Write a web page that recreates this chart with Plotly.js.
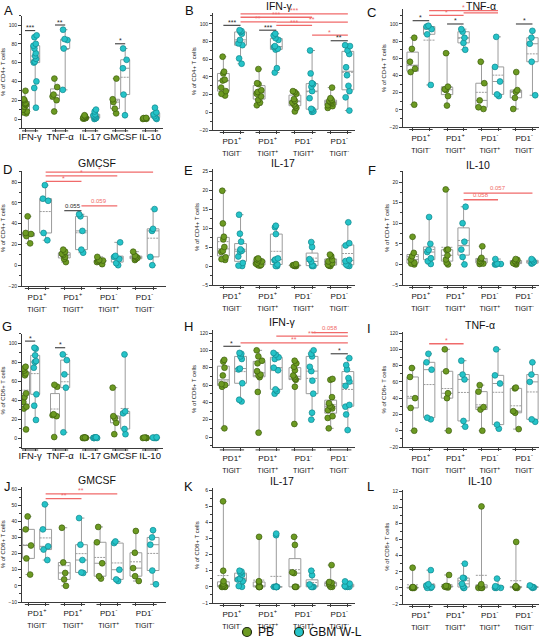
<!DOCTYPE html>
<html>
<head>
<meta charset="utf-8">
<script src="https://cdn.plot.ly/plotly-3.0.1.min.js"></script>
<style>
  html, body { margin: 0; padding: 0; background: #fff; }
  #chart { width: 546px; height: 639px; }
</style>
</head>
<body>
<div id="chart"></div>
<script>
// ---- categories -------------------------------------------------------
const cytokines = ['IFN-γ', 'TNF-α', 'IL-17', 'GMCSF', 'IL-10'];
const pd1Labels = ['PD1<sup>+</sup>', 'PD1<sup>+</sup>', 'PD1<sup>-</sup>', 'PD1<sup>-</sup>'];
const tigitLabels = ['TIGIT<sup>-</sup>', 'TIGIT<sup>+</sup>', 'TIGIT<sup>+</sup>', 'TIGIT<sup>-</sup>'];
const seriesNames = ['PB', 'GBM W-L'];

// ---- CD4+ T cells: % cytokine-producing cells per donor -------------------
// A: all CD4+ T cells, one array per cytokine
const cd4Cyto_PB = [
  [30, 21, 20, 17, 16, 15, 13, 10, 8, 7, 6],
  [43, 34, 26, 24, 20, 8],
  [4, 3, 2, 2, 1.5, 1, 1, 0.5, 0.5],
  [43, 21, 18, 11, 6],
  [1.2, 1, 0.6, 0.5, 0.2, 0]
];
const cd4Cyto_GBM = [
  [89, 87, 80, 78, 75, 70, 67, 64, 61, 60, 40, 33, 12],
  [95, 85, 84, 75, 31],
  [10, 8, 5, 4, 3, 2, 1, 0.5, 0],
  [75, 63, 54, 26, 4],
  [12, 7, 5, 3, 1, 0]
];
// B-F: one array per PD1/TIGIT subset
const cd4Ifn_PB = [
  [63, 46, 44, 37, 36, 28, 24, 21, 19],
  [49, 33, 32, 25, 23, 21, 18, 14, 11, 8],
  [24, 23, 21, 15, 13, 11, 9, 7, 5, 1],
  [28, 16, 14, 13, 12, 11, 10, 8, 7, 5]
];
const cd4Ifn_GBM = [
  [93, 92, 91, 89, 82, 78, 76, 61, 55],
  [89, 87, 84, 82, 75, 74, 72, 71, 50, 45],
  [70, 44, 33, 32, 29, 24, 16, 4, 3, 1, 0.5],
  [76, 75, 70, 66, 51, 42, 30, 24, 17, 2]
];
const cd4Tnf_PB = [
  [84, 71, 56, 48, 44, 6],
  [66, 27, 24, 23, 16, 5],
  [56, 31, 11, 3, 1],
  [44, 23, 21, 14, 1]
];
const cd4Tnf_GBM = [
  [98, 97, 94, 88, 29],
  [94, 91, 84, 78, 70],
  [85, 50, 33, 18, 16],
  [92, 84, 77, 56, 17]
];
const cd4Gm_PB = [
  [47, 31, 30, 28, 21],
  [15, 13, 11, 10, 8, 6, 3],
  [8, 5, 4.5, 4, 3, 1],
  [13, 9, 8, 7, 6, 5]
];
const cd4Gm_GBM = [
  [77, 64, 62, 31, 24],
  [49, 47, 33, 15, 12],
  [22, 9, 8, 6, 2, 0],
  [54, 35, 33, 8, 0]
];
const cd4Il17_PB = [
  [19.8, 11.2, 7.7, 7, 5, 4, 3.7, 2.3, 1.8, 1.6],
  [2, 1.8, 1.5, 1.2, 0.9, 0.6, 0.3, 0.2, 0.1],
  [0.5, 0.3, 0.2, 0.2, 0.1, 0.1, 0, 0],
  [3, 2.6, 1.6, 1.2, 0.7, 0.3, 0.1, 0]
];
const cd4Il17_GBM = [
  [13.5, 8.5, 6.4, 4.4, 4, 3.8, 2.5, 0.8, 0.1, 0],
  [10.6, 10.2, 8.4, 2, 1.7, 1.5, 0.4, 0, 0],
  [6.3, 5, 1.8, 1.2, 0.2, 0, 0],
  [11.5, 6, 5.4, 1.6, 1.3, 0.4, 0.1, 0]
];
const cd4Il10_PB = [
  [6.7, 2.8, 2, 1.2, 0.4, 0.2, 0],
  [18.2, 3.6, 3.5, 2.2, 1.2, 0.4, 0],
  [4.4, 1.6, 1.3, 0.8, 0.5, 0.2, 0.1],
  [1.3, 1.1, 0.8, 0.5, 0.3, 0.1, 0]
];
const cd4Il10_GBM = [
  [11.5, 5, 3.5, 3, 1.5, 0.8, 0.1],
  [14, 10, 5.5, 3.6, 1.8, 0],
  [1.3, 0.2, 0.1, 0, 0],
  [1.3, 1, 0.6, 0.3, 0.2]
];

// ---- CD8+ T cells -------------------------------------------------------
const cd8Cyto_PB = [
  [75, 73, 71, 68, 66, 47, 43, 38, 33, 31, 9],
  [56, 54, 25, 24, 23, 1],
  [0.5, 0.4, 0.3, 0.2, 0.2, 0.1, 0, 0],
  [53, 23, 21, 16, 4],
  [0.5, 0.3, 0.1, 0, 0]
];
const cd8Cyto_GBM = [
  [95, 94, 87, 81, 80, 74, 46, 34, 19],
  [88, 82, 67, 53, 6],
  [0.8, 0.5, 0.3, 0.2, 0.1, 0, 0],
  [88, 28, 26, 9.5, 4],
  [0.8, 0.5, 0.2, 0, 0]
];
const cd8Ifn_PB = [
  [89, 87, 80, 71, 61, 60, 58, 10],
  [100, 93, 88, 85, 76, 72, 71, 69, 52, 5],
  [88, 85, 81, 77, 71, 69, 67, 66, 58, 15],
  [67, 66, 46, 39, 36, 35, 33, 31, 24, 22, 10]
];
const cd8Ifn_GBM = [
  [97, 96, 93, 90, 79, 78, 62, 43, 41],
  [97, 95, 92, 90, 80, 77, 55, 53, 50],
  [100, 96, 93, 81, 76, 65, 50, 28, 20],
  [91, 83, 78, 68, 64, 59, 37, 35, 26, 8]
];
const cd8Tnf_PB = [
  [77, 66, 40, 28, 0],
  [100, 73, 46, 40, 0],
  [56, 48, 29, 26, 0],
  [53, 52, 24, 22, 2]
];
const cd8Tnf_GBM = [
  [94.5, 84, 75, 16, 14],
  [86, 69, 63, 12, 5],
  [100, 68, 58, 7.5, 2.5],
  [84, 69, 60, 14, 11]
];
const cd8Gm_PB = [
  [43, 35, 25, 17, 7],
  [36, 14.5, 8, 4, 0],
  [36.5, 27, 14, 6, 4.5],
  [34, 20.5, 11, 6, 3]
];
const cd8Gm_GBM = [
  [50.5, 35, 24.5, 22.5, 16],
  [42, 25.5, 16, 8.3, 8],
  [27.5, 26.5, 10, 4, 3],
  [34.5, 30, 25.5, 9.5, 1]
];
const cd8Il17_PB = [
  [5.3, 1, 0.35, 0.2, 0.1, 0.05, 0, 0, 0, 0],
  [3.1, 0.35, 0.3, 0, 0, 0, 0, 0, 0],
  [3.1, 2.6, 0.9, 0.85, 0, 0, 0],
  [1.35, 0.3, 0.25, 0.2, 0.1, 0, 0]
];
const cd8Il17_GBM = [
  [1, 0.95, 0.85, 0.75, 0.5, 0.45, 0.35, 0.05, 0],
  [3.3, 3.2, 0, 0, 0, 0, 0, 0, 0, 0],
  [1, 0.72, 0.15, 0, 0, 0, 0],
  [0.34, 0.2, 0.05, 0, 0, 0]
];
const cd8Il10_PB = [
  [2.5, 0.1, 0.05, 0, 0, 0, 0],
  [1.6, 0.25, 0.2, 0.15, 0.1, 0.05],
  [10.1, 0.45, 0.3, 0.05, 0, 0, 0],
  [5.7, 0.2, 0.15, 0.1, 0.05, 0, 0]
];
const cd8Il10_GBM = [
  [2.2, 0.45, 0.3, 0.1, 0, 0],
  [3, 1.25, 1.2, 0.5, 0.2, 0, 0],
  [1.15, 0.2, 0.1, 0, 0, 0],
  [0.3, 0.15, 0.1, 0.05, 0]
];

// ---- significance: [catA, seriesA, catB, seriesB, y, label, kind] ----------
// series 0 = PB, 1 = GBM W-L; kind 'w' = within subset, 'b' = between subsets
const sigA = [[0,0,0,1,94,'***','w'], [1,0,1,1,100,'**','w'], [3,0,3,1,80,'*','w']];
const sigB = [
  [0,0,0,1,98.5,'***','w'], [1,0,1,1,93,'***','w'], [3,0,3,1,81,'**','w'],
  [0,1,3,1,111.5,'***','b'], [0,1,2,1,107.6,'***','b'], [0,1,1,1,102.5,'**','b'],
  [1,1,3,1,102,'**','b'], [1,1,2,1,98.5,'***','b'], [2,1,3,1,87.4,'*','b']
];
const sigC = [
  [0,0,0,1,103.8,'*','w'], [1,0,1,1,100,'*','w'], [3,0,3,1,100,'*','w'],
  [0,1,2,1,115.5,'*','b'], [1,1,2,1,113,'*','b'], [0,1,1,1,110,'*','b']
];
const sigD = [
  [0,1,3,1,89.5,'*','b'], [0,1,2,1,86,'*','b'], [0,1,1,1,80.7,'*','b'],
  [1,1,2,1,57,'0.059','b'], [1,0,1,1,52.4,'0.055','w']
];
const sigE = [];
const sigF = [[1,1,3,1,17.3,'0.057','b'], [1,1,2,1,15.7,'0.058','b']];
const sigG = [[0,0,0,1,102,'*','w'], [1,0,1,1,95,'*','w']];
const sigH = [
  [0,0,0,1,104.7,'*','w'], [3,0,3,1,96,'*','w'],
  [0,1,3,1,108.5,'**','b'], [1,1,3,1,116.5,'***','b'], [2,1,3,1,120.4,'0.058','b']
];
const sigI = [[0,1,1,1,106.8,'*','b']];
const sigJ = [[0,1,2,1,57,'**','b'], [0,1,1,1,54,'**','b']];
const sigK = [];
const sigL = [];

// ---- panel content ------------------------------------------------------
const CD4 = '% of CD4+ T cells', CD8 = '% of CD8+ T cells';
const panels = [
  {letter:'A', title:'',      ylab:CD4, cyto:true,  pb:cd4Cyto_PB,  gbm:cd4Cyto_GBM,  sig:sigA},
  {letter:'B', title:'IFN-γ', ylab:CD4, cyto:false, pb:cd4Ifn_PB,   gbm:cd4Ifn_GBM,   sig:sigB},
  {letter:'C', title:'TNF-α', ylab:CD4, cyto:false, pb:cd4Tnf_PB,   gbm:cd4Tnf_GBM,   sig:sigC},
  {letter:'D', title:'GMCSF', ylab:CD4, cyto:false, pb:cd4Gm_PB,    gbm:cd4Gm_GBM,    sig:sigD},
  {letter:'E', title:'IL-17', ylab:CD4, cyto:false, pb:cd4Il17_PB,  gbm:cd4Il17_GBM,  sig:sigE},
  {letter:'F', title:'IL-10', ylab:CD4, cyto:false, pb:cd4Il10_PB,  gbm:cd4Il10_GBM,  sig:sigF},
  {letter:'G', title:'',      ylab:CD8, cyto:true,  pb:cd8Cyto_PB,  gbm:cd8Cyto_GBM,  sig:sigG},
  {letter:'H', title:'IFN-γ', ylab:CD8, cyto:false, pb:cd8Ifn_PB,   gbm:cd8Ifn_GBM,   sig:sigH},
  {letter:'I', title:'TNF-α', ylab:CD8, cyto:false, pb:cd8Tnf_PB,   gbm:cd8Tnf_GBM,   sig:sigI},
  {letter:'J', title:'GMCSF', ylab:CD8, cyto:false, pb:cd8Gm_PB,    gbm:cd8Gm_GBM,    sig:sigJ},
  {letter:'K', title:'IL-17', ylab:CD8, cyto:false, pb:cd8Il17_PB,  gbm:cd8Il17_GBM,  sig:sigK},
  {letter:'L', title:'IL-10', ylab:CD8, cyto:false, pb:cd8Il10_PB,  gbm:cd8Il10_GBM,  sig:sigL}
];

// ---- geometry (pixels in a 546 x 639 page) ----------------------------------
const W = 546, H = 639;
const frames = [
  {px:[22,163],  py:[15.6,128.4],  yr:[-10,110],  xr:[-0.27,4.43], dtick:20, lt:[8,10],   tt:null},
  {px:[213,355], py:[12.5,130],    yr:[-20,113],  xr:[-0.53,3.44], dtick:20, lt:[189,10], tt:[279,6]},
  {px:[403,539], py:[9.4,127],     yr:[-20,117],  xr:[-0.52,3.43], dtick:20, lt:[371,12], tt:[481,6]},
  {px:[22,166],  py:[170.6,286],   yr:[-20,91],   xr:[-0.42,3.6],  dtick:20, lt:[7,169],  tt:[97,163]},
  {px:[213,355], py:[169.1,285],   yr:[-5,25.5],  xr:[-0.53,3.44], dtick:5,  lt:[188,170],tt:[283,163]},
  {px:[403,539], py:[170.9,285],   yr:[-5,22.7],  xr:[-0.52,3.43], dtick:5,  lt:[372,170],tt:[478,165]},
  {px:[22,163],  py:[333.5,447.5], yr:[-10,110],  xr:[-0.27,4.43], dtick:20, lt:[7,327],  tt:null},
  {px:[213,355], py:[330.4,447.4], yr:[-12,123],  xr:[-0.53,3.44], dtick:20, lt:[188,327],tt:[282,322]},
  {px:[403,539], py:[332.2,447],   yr:[-20,121],  xr:[-0.52,3.43], dtick:20, lt:[369,328],tt:[480,325]},
  {px:[22,166],  py:[486.6,602],   yr:[-10,61.5], xr:[-0.42,3.6],  dtick:10, lt:[7,486],  tt:[97,480]},
  {px:[213,355], py:[487.6,603],   yr:[-1,6.15],  xr:[-0.53,3.44], dtick:1,  lt:[188,486],tt:[282,481]},
  {px:[403,539], py:[489.5,604],   yr:[-2,12.2],  xr:[-0.52,3.43], dtick:2,  lt:[370,486],tt:[480,481]}
];

// ---- style --------------------------------------------------------------
const FONT = 'Arial, "Liberation Sans", sans-serif';
const AXIS = '#3a3a3a';
const BOXLINE = '#9c9c9c';
const RED = '#f06a6a';
const DARK = '#2a2a2a';
const seriesStyle = [
  {fill: '#6c9a22', edge: '#3d5e0e'},
  {fill: '#25c3c8', edge: '#13868c'}
];

// box statistics (linear-interpolated quartiles, min/max whiskers)
function quantile(sorted, p) {
  const h = (sorted.length - 1) * p, lo = Math.floor(h), hi = Math.ceil(h);
  return sorted[lo] + (sorted[hi] - sorted[lo]) * (h - lo);
}
function boxStats(vals) {
  const s = vals.slice().sort((a, b) => a - b);
  return {
    q1: quantile(s, 0.25), med: quantile(s, 0.5), q3: quantile(s, 0.75),
    lo: s[0], hi: s[s.length - 1],
    mean: s.reduce((a, b) => a + b, 0) / s.length
  };
}

const traces = [];
const shapes = [];
const annotations = [];
const layout = {
  width: W, height: H,
  margin: {l: 0, r: 0, t: 0, b: 0},
  paper_bgcolor: '#fff', plot_bgcolor: '#fff',
  showlegend: false,
  font: {family: FONT, color: '#111'},
  boxmode: 'overlay'
};

const px2x = v => v / W;
const px2y = v => 1 - v / H;

panels.forEach((p, i) => {
  const k = i + 1;
  const sx = k === 1 ? '' : String(k);
  const xa = 'x' + sx, ya = 'y' + sx;
  const f = frames[i];
  const off = p.cyto ? 0.17 : 0.24;        // half distance between PB and GBM boxes
  const bw = p.cyto ? 0.3 : 0.33;          // box width in category units
  const centers = p.pb.map((_, j) => j);
  const pos = [centers.map(c => c - off), centers.map(c => c + off)];
  const plotH = f.py[1] - f.py[0];

  const ticktext = p.cyto
    ? cytokines
    : centers.map(j => '<span style="font-size:8px">' + pd1Labels[j] + '</span><br>' +
                       '<span style="font-size:7px">' + tigitLabels[j] + '</span>');

  layout['xaxis' + sx] = {
    domain: [px2x(f.px[0]), px2x(f.px[1])],
    anchor: ya, type: 'linear', range: f.xr,
    showgrid: false, zeroline: false, fixedrange: true,
    showline: true, linecolor: AXIS, linewidth: 1,
    tickmode: 'array', tickvals: centers, ticktext: ticktext, tickangle: 0,
    ticks: 'outside', ticklen: 1, tickcolor: 'rgba(0,0,0,0)',
    ticklabelstandoff: p.cyto ? -2 : -2.5,
    tickfont: {size: p.cyto ? 9.5 : 9.6, color: '#111', family: FONT},
    minor: {tickmode: 'array', tickvals: pos[0].concat(pos[1]),
            ticks: 'outside', ticklen: 2.5, tickcolor: AXIS, tickwidth: 1}
  };
  layout['yaxis' + sx] = {
    domain: [px2y(f.py[1]), px2y(f.py[0])],
    anchor: xa, range: f.yr, fixedrange: true,
    showgrid: false, zeroline: false,
    showline: true, linecolor: AXIS, linewidth: 1,
    tick0: 0, dtick: f.dtick,
    ticks: 'outside', ticklen: 3, tickcolor: AXIS,
    tickfont: {size: 5, color: '#222'},
    minor: {tick0: 0, dtick: f.dtick / 2, ticks: 'outside', ticklen: 2, tickcolor: AXIS},
    title: {text: p.ylab, font: {size: 6, color: '#222'}, standoff: 2}
  };

  // group underline below each category
  centers.forEach(c => shapes.push({
    type: 'line', xref: xa, yref: ya + ' domain',
    x0: c - off - 0.1, x1: c + off + 0.1, y0: -2.5 / plotH, y1: -2.5 / plotH,
    line: {color: AXIS, width: 1}
  }));

  // boxes and donor points for both series
  [p.pb, p.gbm].forEach((vals, s) => {
    const st = vals.map(boxStats);
    traces.push({
      type: 'box', xaxis: xa, yaxis: ya, name: seriesNames[s],
      x: pos[s],
      q1: st.map(d => d.q1), median: st.map(d => d.med), q3: st.map(d => d.q3),
      lowerfence: st.map(d => d.lo), upperfence: st.map(d => d.hi),
      mean: st.map(d => d.mean), boxmean: true,
      boxpoints: false, width: bw, whiskerwidth: 0.5,
      line: {color: BOXLINE, width: 1}, fillcolor: 'rgba(255,255,255,0)',
      hoverinfo: 'skip', showlegend: false
    });
    const xs = [], ys = [];
    vals.forEach((v, j) => v.forEach(y => { xs.push(pos[s][j]); ys.push(y); }));
    traces.push({
      type: 'box', xaxis: xa, yaxis: ya, name: seriesNames[s],
      x: xs, y: ys, width: bw,
      boxpoints: 'all', jitter: 0.55, pointpos: 0,
      line: {width: 0, color: 'rgba(0,0,0,0)'}, fillcolor: 'rgba(0,0,0,0)',
      marker: {color: seriesStyle[s].fill, size: 5.8,
               line: {color: seriesStyle[s].edge, width: 0.7}},
      showlegend: false
    });
  });

  // significance bars
  p.sig.forEach(([ca, sa, cb, sb, y, label, kind]) => {
    const x0 = pos[sa][ca], x1 = pos[sb][cb];
    const col = kind === 'b' ? RED : DARK;
    const stars = label.indexOf('*') === 0;
    shapes.push({type: 'line', xref: xa, yref: ya, x0: x0, x1: x1, y0: y, y1: y,
                 line: {color: col, width: kind === 'b' ? 1.3 : 1}});
    annotations.push({xref: xa, yref: ya, x: (x0 + x1) / 2, y: y, text: label,
                      showarrow: false, yanchor: 'bottom', yshift: stars ? -2.5 : 0,
                      font: {size: stars ? 7 : 6, color: col, family: FONT}});
  });

  // panel letter and title
  annotations.push({xref: 'paper', yref: 'paper', x: px2x(f.lt[0]), y: px2y(f.lt[1]),
                    text: p.letter, showarrow: false, xanchor: 'center', yanchor: 'middle',
                    font: {size: 13, color: '#111', family: FONT}});
  if (p.title) {
    annotations.push({xref: 'paper', yref: 'paper', x: px2x(f.tt[0]), y: px2y(f.tt[1]),
                      text: p.title, showarrow: false, xanchor: 'center', yanchor: 'middle',
                      font: {size: 10.5, color: '#111', family: FONT}});
  }
});

// legend at the foot of the figure
const legendItems = [{cx: 247, tx: 256}, {cx: 299, tx: 307}];
const legendY = 632;
legendItems.forEach((it, s) => {
  shapes.push({type: 'circle', xref: 'paper', yref: 'paper',
               x0: px2x(it.cx - 4.5), x1: px2x(it.cx + 4.5),
               y0: px2y(legendY + 4.5), y1: px2y(legendY - 4.5),
               fillcolor: seriesStyle[s].fill, line: {color: '#1e2a10', width: 1.2}});
  annotations.push({xref: 'paper', yref: 'paper', x: px2x(it.tx), y: px2y(legendY),
                    text: seriesNames[s], showarrow: false, xanchor: 'left', yanchor: 'middle',
                    font: {size: 12, color: '#111', family: FONT}});
});

layout.shapes = shapes;
layout.annotations = annotations;

Plotly.newPlot('chart', traces, layout, {displayModeBar: false, staticPlot: true});
</script>
</body>
</html>
